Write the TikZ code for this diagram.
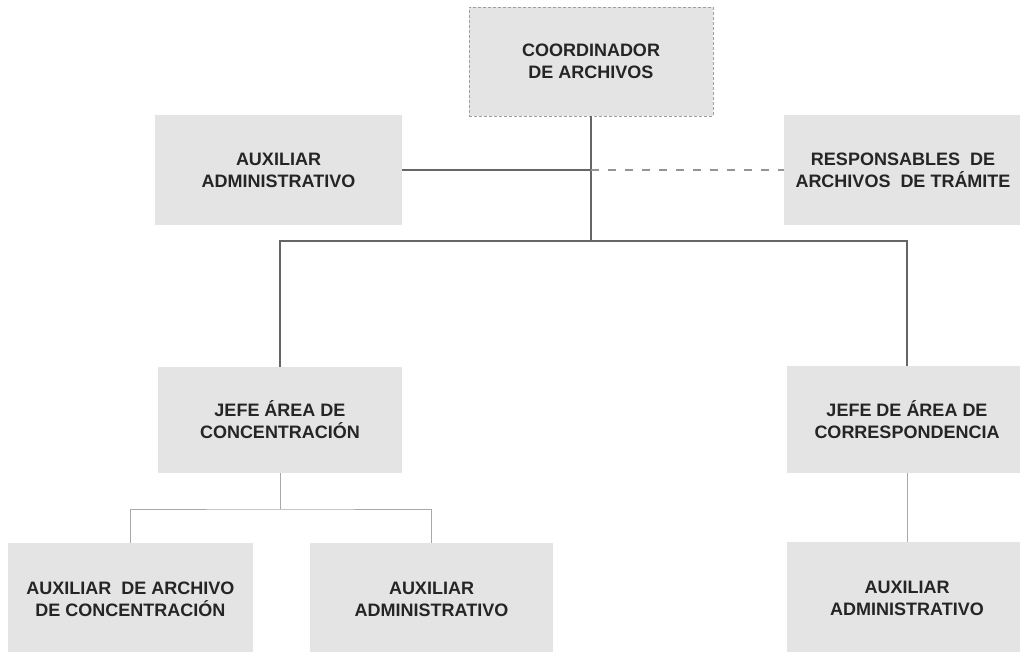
\documentclass[tikz,border=0pt]{standalone}
\usepackage{fontspec}
\setmainfont{Liberation Sans}
\definecolor{boxfill}{HTML}{E4E4E4}
\definecolor{boxtext}{HTML}{252525}
\definecolor{mainline}{HTML}{666666}
\definecolor{thinline}{HTML}{A8A8A8}
\begin{document}
\begin{tikzpicture}[x=1pt,y=-1pt,
  orgbox/.style={fill=boxfill, draw=none, minimum height=110pt, text=boxtext,
    font=\fontsize{18}{22}\selectfont\bfseries, align=center, inner sep=0pt},
  mainconn/.style={draw=mainline, line width=1.8pt},
  dashconn/.style={draw=mainline!70, line width=1.8pt, dash pattern=on 8pt off 9pt},
  thinconn/.style={draw=thinline, line width=0.9pt}]
\useasboundingbox (0,0) rectangle (1020,652);
\node[orgbox, draw=gray!75, densely dashed, line width=0.8pt, minimum width=244pt, minimum height=109pt] (coord) at (591,61.5) {COORDINADOR\\DE ARCHIVOS};
\node[orgbox, minimum width=247pt] (auxtop) at (278.5,170) {AUXILIAR\\ADMINISTRATIVO};
\node[orgbox, minimum width=238pt] (resp) at (903,170) {RESPONSABLES\ \ DE\\ARCHIVOS\ \ DE TRÁMITE};
\node[orgbox, minimum width=244pt, minimum height=106pt] (jefeC) at (280,420) {JEFE ÁREA DE\\CONCENTRACIÓN};
\node[orgbox, minimum width=240pt, minimum height=107pt] (jefeR) at (907,419.5) {JEFE DE ÁREA DE\\CORRESPONDENCIA};
\node[orgbox, minimum width=245pt, minimum height=112pt] (b1) at (130.5,599) {AUXILIAR\ \ DE ARCHIVO\\DE CONCENTRACIÓN};
\node[orgbox, minimum width=243pt, minimum height=112pt] (b2) at (431.5,599) {AUXILIAR\\ADMINISTRATIVO};
\node[orgbox, minimum width=240pt, minimum height=113pt] (b3) at (907,598.5) {AUXILIAR\\ADMINISTRATIVO};
\coordinate (barlevel) at (0,241);
\coordinate (sublevel) at (0,509);
\coordinate (mid) at (coord.south |- auxtop.east);
\coordinate (bar) at (coord.south |- barlevel);
\coordinate (sub) at (jefeC.south |- sublevel);
\draw[mainconn] (coord.south) -- (bar);
\draw[mainconn] (auxtop.east) -- (mid);
\draw[dashconn] (mid) -- (resp.west);
\draw[mainconn] (jefeC.north) |- (bar) -| (jefeR.north);
\draw[thinconn] (jefeC.south) -- (sub);
\draw[thinconn] (b1.north) |- (sub) -| (b2.north);
\draw[thinconn] (jefeR.south) -- (b3.north);
\end{tikzpicture}
\end{document}
